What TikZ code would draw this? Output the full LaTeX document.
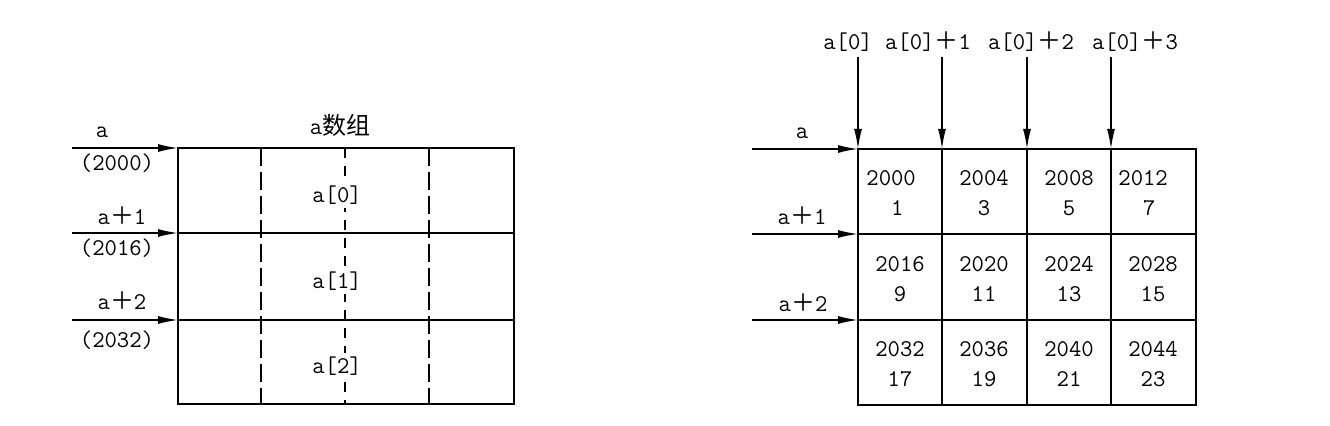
\documentclass[tikz,border=0pt]{standalone}
\usepackage{fontspec}
\newfontfamily\cjk{Noto Sans CJK SC}
\usetikzlibrary{arrows.meta}
\newcommand{\fp}{{\cjk ＋}}
\begin{document}
\begin{tikzpicture}[x=0.5pt,y=-0.5pt,
  lbl/.style={font=\ttfamily\fontsize{12}{15}\selectfont, inner sep=0pt, align=center},
  arr/.style={-{Latex[length=10pt,width=4pt]}, line width=0.8pt},
  gridline/.style={line width=0.8pt},
  dashline/.style={line width=0.8pt, dash pattern=on 9pt off 3pt},
  midline/.style={line width=0.8pt, dash pattern=on 5pt off 4pt}]
\useasboundingbox (0,0) rectangle (1330,426);
% ---------- left picture ----------
\coordinate (L00) at (178,148); \coordinate (L01) at (514,148);
\coordinate (L10) at (178,233); \coordinate (L11) at (514,233);
\coordinate (L20) at (178,320); \coordinate (L21) at (514,320);
\coordinate (L30) at (178,404); \coordinate (L31) at (514,404);
\draw[gridline] (L00) -- (L01) -- (L31) -- (L30) -- cycle;
\draw[gridline] (L10) -- (L11);
\draw[gridline] (L20) -- (L21);
\draw[dashline] (261,148) -- (261,404);
\draw[dashline] (429,148) -- (429,404);
\draw[midline] (345,148) -- (345,404);
\node[lbl] (ltitle) at (340,125) {a{\cjk 数组}};
\node[lbl, fill=white, inner sep=2pt] (e0) at (337,195) {a[0]};
\node[lbl, fill=white, inner sep=2pt] (e1) at (337,281) {a[1]};
\node[lbl, fill=white, inner sep=2pt] (e2) at (337,366) {a[2]};
\coordinate (ls0) at (72,148);
\coordinate (ls1) at (72,233);
\coordinate (ls2) at (72,320);
\draw[arr] (ls0) -- (L00);
\draw[arr] (ls1) -- (L10);
\draw[arr] (ls2) -- (L20);
\node[lbl] (la0) at (102,132) {a};
\node[lbl] (ld0) at (117,163) {(2000)};
\node[lbl] (la1) at (122,216) {a\fp1};
\node[lbl] (ld1) at (117,248) {(2016)};
\node[lbl] (la2) at (122,301) {a\fp2};
\node[lbl] (ld2) at (117,340) {(2032)};
% ---------- right picture ----------
\coordinate (R00) at (858,149); \coordinate (R01) at (942,149);
\coordinate (R02) at (1027,149); \coordinate (R03) at (1111,149);
\coordinate (R04) at (1196,149);
\coordinate (R10) at (858,234); \coordinate (R14) at (1196,234);
\coordinate (R20) at (858,320); \coordinate (R24) at (1196,320);
\coordinate (R30) at (858,405); \coordinate (R31) at (942,405);
\coordinate (R32) at (1027,405); \coordinate (R33) at (1111,405);
\coordinate (R34) at (1196,405);
\draw[gridline] (R00) -- (R04) -- (R34) -- (R30) -- cycle;
\draw[gridline] (R10) -- (R14);
\draw[gridline] (R20) -- (R24);
\draw[gridline] (R01) -- (R31);
\draw[gridline] (R02) -- (R32);
\draw[gridline] (R03) -- (R33);
\node[lbl] (t0) at (848,42) {a[0]};
\node[lbl] (t1) at (928,42) {a[0]\fp1};
\node[lbl] (t2) at (1031,42) {a[0]\fp2};
\node[lbl] (t3) at (1135,42) {a[0]\fp3};
\coordinate (ts0) at (858,57); \coordinate (ts1) at (942,57);
\coordinate (ts2) at (1027,57); \coordinate (ts3) at (1111,57);
\draw[arr] (ts0) -- (R00);
\draw[arr] (ts1) -- (R01);
\draw[arr] (ts2) -- (R02);
\draw[arr] (ts3) -- (R03);
\coordinate (rs0) at (752,149);
\coordinate (rs1) at (752,234);
\coordinate (rs2) at (752,320);
\draw[arr] (rs0) -- (R00);
\draw[arr] (rs1) -- (R10);
\draw[arr] (rs2) -- (R20);
\node[lbl] (ra0) at (802,133) {a};
\node[lbl] (ra1) at (802,216) {a\fp1};
\node[lbl] (ra2) at (803,303) {a\fp2};
% cells
\node[lbl, anchor=west, align=left] (c11) at (866,193) {2000\\\hphantom{00}1};
\node[lbl] (c12) at (984,193) {2004\\3};
\node[lbl] (c13) at (1069,193) {2008\\5};
\node[lbl, anchor=west, align=left] (c14) at (1118,193) {2012\\\hphantom{00}7};
\node[lbl] (c21) at (900,279) {2016\\9};
\node[lbl] (c22) at (984,279) {2020\\11};
\node[lbl] (c23) at (1069,279) {2024\\13};
\node[lbl] (c24) at (1153,279) {2028\\15};
\node[lbl] (c31) at (900,364) {2032\\17};
\node[lbl] (c32) at (984,364) {2036\\19};
\node[lbl] (c33) at (1069,364) {2040\\21};
\node[lbl] (c34) at (1153,364) {2044\\23};
\end{tikzpicture}
\end{document}
